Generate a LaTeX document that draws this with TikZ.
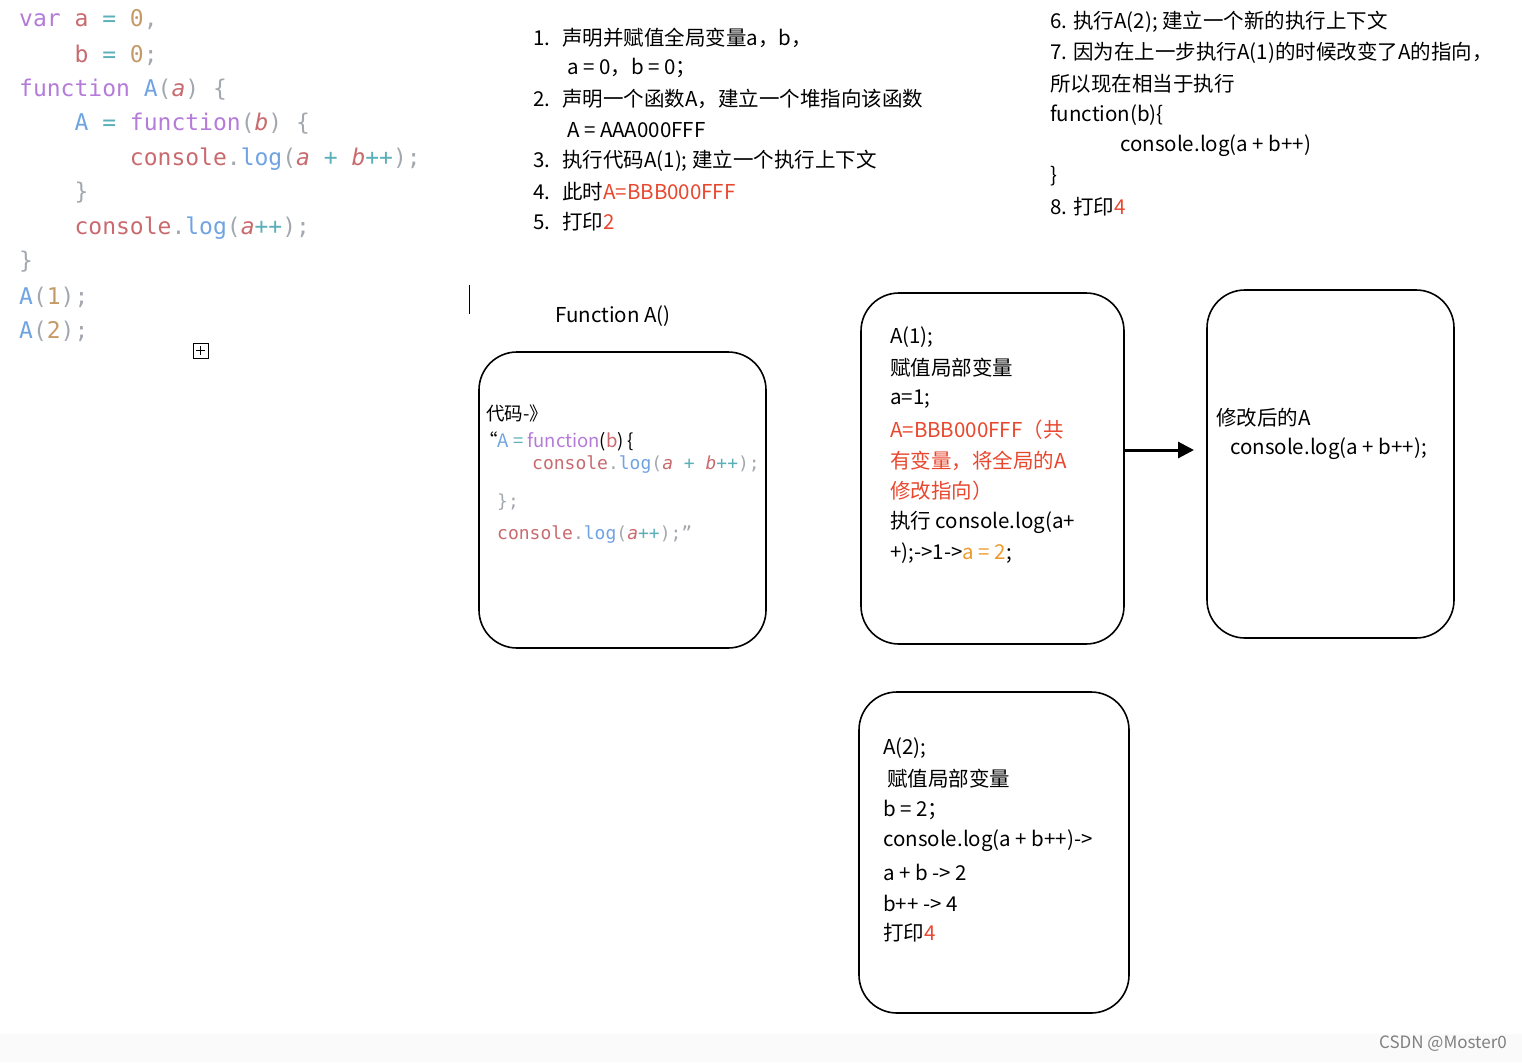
\documentclass[tikz,border=0pt]{standalone}
\usepackage{fontspec}
\usetikzlibrary{arrows.meta}
\setmainfont{Noto Sans CJK SC}
\newfontfamily\codefont{DejaVu Sans Mono}
\definecolor{kwc}{HTML}{B47BD8}
\definecolor{vrc}{HTML}{C86A6E}
\definecolor{fnc}{HTML}{6FA3E2}
\definecolor{nmc}{HTML}{C49B68}
\definecolor{opc}{HTML}{5AAFB8}
\definecolor{pnc}{HTML}{A3A7AE}
\definecolor{hlred}{HTML}{E8472E}
\definecolor{hlorg}{HTML}{EE9A2C}
\newcommand{\kw}[1]{\textcolor{kwc}{#1}}
\newcommand{\vr}[1]{\textcolor{vrc}{#1}}
\newcommand{\fn}[1]{\textcolor{fnc}{#1}}
\newcommand{\nm}[1]{\textcolor{nmc}{#1}}
\newcommand{\op}[1]{\textcolor{opc}{#1}}
\newcommand{\pn}[1]{\textcolor{pnc}{#1}}
\tikzset{
  codeline/.style={anchor=west,inner sep=0pt,font=\codefont\fontsize{23}{26}\selectfont},
  smallcode/.style={anchor=west,inner sep=0pt,font=\codefont\fontsize{18}{21}\selectfont},
  txt/.style={anchor=west,inner sep=0pt,font=\fontsize{20.5}{24}\selectfont},
  framebox/.style={draw,line width=1.6pt,rounded corners=38pt}
}
\begin{document}
\begin{tikzpicture}[x=1pt,y=-1pt]
    \useasboundingbox (0,0) rectangle (1522,1062);
    \fill[gray!4] (0,1034) rectangle (1522,1062);
    % code on the left
    \node[codeline] (c1) at (19,20) {\kw{var} \vr{a} \op{=} \nm{0}\pn{,}};
    \node[codeline] (c2) at (19,55) {\phantom{xxx} \vr{b} \op{=} \nm{0}\pn{;}};
    \node[codeline] (c3) at (19,90) {\kw{function} \fn{A}\pn{(}\vr{\itshape a}\pn{) \{}};
    \node[codeline] (c4) at (19,124) {\phantom{xxx} \fn{A} \op{=} \kw{function}\pn{(}\vr{\itshape b}\pn{) \{}};
    \node[codeline] (c5) at (19,159) {\phantom{xxxxxxx} \vr{console}\pn{.}\fn{log}\pn{(}\vr{\itshape a} \op{+} \vr{\itshape b}\op{++}\pn{);}};
    \node[codeline] (c6) at (19,193) {\phantom{xxx} \pn{\}}};
    \node[codeline] (c7) at (19,228) {\phantom{xxx} \vr{console}\pn{.}\fn{log}\pn{(}\vr{\itshape a}\op{++}\pn{);}};
    \node[codeline] (c8) at (19,262) {\pn{\}}};
    \node[codeline] (c9) at (19,297) {\fn{A}\pn{(}\nm{1}\pn{);}};
    \node[codeline] (c10) at (19,331) {\fn{A}\pn{(}\nm{2}\pn{);}};
    \draw[line width=0.8pt] (193,343) rectangle (208,358);
    \draw[line width=0.8pt] (200.5,346) -- (200.5,355) (196,350.5) -- (205,350.5);
    \draw[line width=1pt] (469,285) -- (469,314);
    % steps
    \node[txt] (s1) at (533,38) {1.\hspace{12pt}声明并赋值全局变量a，b，};
    \node[txt] (s1b) at (567,68) {a = 0，b = 0；};
    \node[txt] (s2) at (533,99) {2.\hspace{12pt}声明一个函数A，建立一个堆指向该函数};
    \node[txt] (s2b) at (567,130) {A = AAA000FFF};
    \node[txt] (s3) at (533,161) {3.\hspace{12pt}执行代码A(1); 建立一个执行上下文};
    \node[txt] (s4) at (533,192) {4.\hspace{12pt}此时\textcolor{hlred}{A=BBB000FFF}};
    \node[txt] (s5) at (533,222) {5.\hspace{12pt}打印\textcolor{hlred}{2}};
    \node[txt] (s6) at (1050,22) {6. 执行A(2); 建立一个新的执行上下文};
    \node[txt] (s7) at (1050,53) {7. 因为在上一步执行A(1)的时候改变了A的指向，};
    \node[txt] (s7b) at (1050,84) {所以现在相当于执行};
    \node[txt] (s7c) at (1050,115) {function(b)\{};
    \node[txt] (s7d) at (1120,146) {console.log(a + b++)};
    \node[txt] (s7e) at (1050,176) {\}};
    \node[txt] (s8) at (1050,207) {8. 打印\textcolor{hlred}{4}};
    % boxes
    \node[txt] (ftitle) at (555,316) {Function A()};
    \draw[framebox] (479,352) rectangle (766,648);
    \node[txt,font=\fontsize{18.5}{22}\selectfont] (fa1) at (486,413) {代码-》};
    \node[txt,font=\fontsize{18.5}{22}\selectfont] (fa2) at (479,441) {“\fn{A} \op{=} \kw{function}(\vr{b}) \{};
    \node[smallcode] (fa3) at (532,465) {\vr{console}\pn{.}\fn{log}\pn{(}\vr{\itshape a} \op{+} \vr{\itshape b}\op{++}\pn{);}};
    \node[smallcode] (fa4) at (497,502) {\pn{\};}};
    \node[smallcode] (fa5) at (497,535) {\vr{console}\pn{.}\fn{log}\pn{(}\vr{\itshape a}\op{++}\pn{);”}};
    \draw[framebox] (861,293) rectangle (1124,644);
    \node[txt] (a1) at (890,337) {A(1);};
    \node[txt] (a2) at (890,368) {赋值局部变量};
    \node[txt] (a3) at (890,399) {a=1;};
    \node[txt,hlred] (a4) at (890,430) {A=BBB000FFF（共};
    \node[txt,hlred] (a5) at (890,461) {有变量，将全局的A};
    \node[txt,hlred] (a6) at (890,491) {修改指向）};
    \node[txt] (a7) at (890,522) {执行 console.log(a+};
    \node[txt] (a8) at (890,553) {+);->1->\textcolor{hlorg}{a = 2};};
    \draw[framebox] (1207,290) rectangle (1454,638);
    \node[txt] (m1) at (1216,418) {修改后的A};
    \node[txt] (m2) at (1230,449) {console.log(a + b++);};
    \coordinate (arrs) at (1124,450);
    \coordinate (arre) at (1194,450);
    \draw[line width=3pt,-{Triangle[length=16pt,width=16pt]}] (arrs) -- (arre);
    \draw[framebox] (859,692) rectangle (1129,1013);
    \node[txt] (b1) at (883,748) {A(2);};
    \node[txt] (b2) at (887,779) {赋值局部变量};
    \node[txt] (b3) at (883,810) {b = 2；};
    \node[txt] (b4) at (883,841) {console.log(a + b++)->};
    \node[txt] (b5) at (883,872) {a + b -> 2};
    \node[txt] (b6) at (883,903) {b++ -> 4};
    \node[txt] (b7) at (883,933) {打印\textcolor{hlred}{4}};
    \node[anchor=east,inner sep=0pt,gray,font=\fontsize{17}{20}\selectfont] (mark) at (1507,1044) {CSDN @Moster0};
\end{tikzpicture}
\end{document}
